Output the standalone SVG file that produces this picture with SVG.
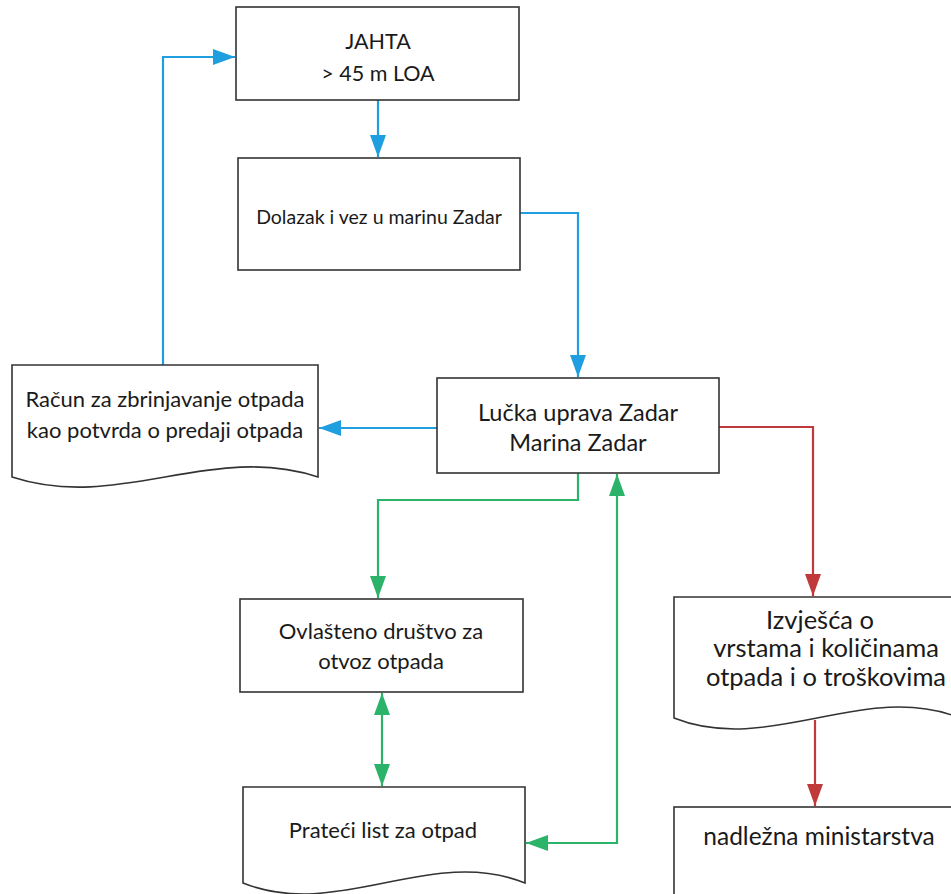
<svg xmlns="http://www.w3.org/2000/svg" width="951" height="894" viewBox="0 0 951 894">
<style>
.box{fill:#fff;stroke:#333;stroke-width:1.6}
.t{font-family:Lato,"Open Sans","Liberation Sans",sans-serif;font-size:22px;fill:#1a1a1a;text-anchor:middle}
.c{fill:none;stroke-width:2.2}
.b{stroke:#1f9fe0}
.g{stroke:#2bb36a}
.r{stroke:#c0393b}
</style>
<defs>
<marker id="ab" viewBox="0 0 22 16" refX="22" refY="8" markerWidth="22" markerHeight="16" markerUnits="userSpaceOnUse" orient="auto-start-reverse"><path d="M0,0L22,8L0,16z" fill="#1f9fe0"/></marker>
<marker id="ag" viewBox="0 0 22 16" refX="22" refY="8" markerWidth="22" markerHeight="16" markerUnits="userSpaceOnUse" orient="auto-start-reverse"><path d="M0,0L22,8L0,16z" fill="#2bb36a"/></marker>
<marker id="ar" viewBox="0 0 22 16" refX="22" refY="8" markerWidth="22" markerHeight="16" markerUnits="userSpaceOnUse" orient="auto-start-reverse"><path d="M0,0L22,8L0,16z" fill="#c0393b"/></marker>
</defs>
<rect width="951" height="894" fill="#fff"/>
<g id="connectors">
<path class="c b" d="M378,100V157" marker-end="url(#ab)"/>
<path class="c b" d="M520,213H578V377" marker-end="url(#ab)"/>
<path class="c b" d="M163,365V57H235" marker-end="url(#ab)"/>
<path class="c b" d="M437,428H319" marker-end="url(#ab)"/>
<path class="c g" d="M578,473V500H378V598" marker-end="url(#ag)"/>
<path class="c g" d="M526,843H617V474" marker-start="url(#ag)" marker-end="url(#ag)"/>
<path class="c g" d="M382,693V786" marker-start="url(#ag)" marker-end="url(#ag)"/>
<path class="c r" d="M719,427H813V596" marker-end="url(#ar)"/>
<path class="c r" d="M815,720V806" marker-end="url(#ar)"/>
</g>
<g id="jahta">
<rect class="box" x="236" y="7" width="283" height="93"/>
<text class="t" x="378" y="49" style="font-size:21.5px">JAHTA</text>
<text class="t" x="378" y="81" style="font-size:21.5px">&gt; 45 m LOA</text>
</g>
<g id="dolazak">
<rect class="box" x="238" y="158" width="282" height="112"/>
<text class="t" x="379" y="224" style="font-size:19.5px">Dolazak i vez u marinu Zadar</text>
</g>
<g id="lucka">
<rect class="box" x="437" y="378" width="282" height="95"/>
<text class="t" x="578" y="421" style="font-size:23.5px">Lučka uprava Zadar</text>
<text class="t" x="578" y="451" style="font-size:23.5px">Marina Zadar</text>
</g>
<g id="racun">
<path class="box" d="M12,365H318V477C211,442 119,512 12,477Z"/>
<text class="t" x="165" y="407">Račun za zbrinjavanje otpada</text>
<text class="t" x="165" y="438">kao potvrda o predaji otpada</text>
</g>
<g id="ovlasteno">
<rect class="box" x="240" y="599" width="283" height="93"/>
<text class="t" x="381" y="639">Ovlašteno društvo za</text>
<text class="t" x="381" y="669">otvoz otpada</text>
</g>
<g id="prateci">
<path class="box" d="M243,787H525V883C431,845 337,921 243,883Z"/>
<text class="t" x="383" y="838">Prateći list za otpad</text>
</g>
<g id="izvjesca">
<path class="box" d="M674,597H960V718C865,680 769,756 674,718Z"/>
<text class="t" x="820" y="629" style="font-size:25.5px">Izvješća o</text>
<text class="t" x="826" y="657" style="font-size:25.5px">vrstama i količinama</text>
<text class="t" x="826" y="686" style="font-size:25.5px">otpada i o troškovima</text>
</g>
<g id="nadlezna">
<rect class="box" x="674" y="807" width="290" height="100"/>
<text class="t" x="819" y="845" style="font-size:24.5px">nadležna ministarstva</text>
</g>
</svg>
